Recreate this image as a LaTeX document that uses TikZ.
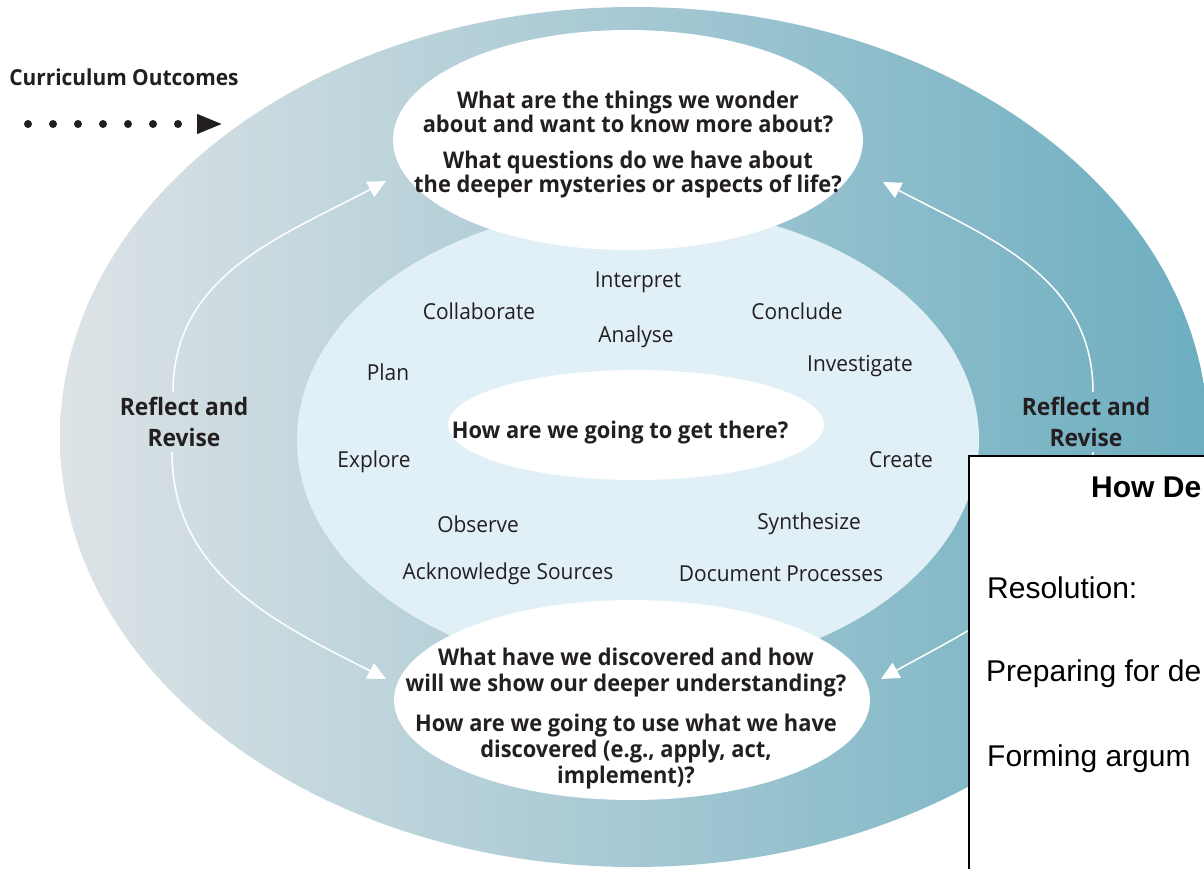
\documentclass[tikz,border=0pt]{standalone}
\usepackage{fontspec}
\setmainfont{Open Sans}[FakeStretch=0.95]
\newfontfamily\arialfont{Liberation Sans}
\usepackage{tikz}
\usetikzlibrary{arrows.meta}
\definecolor{ink}{HTML}{231F20}
\definecolor{ring-left}{HTML}{DDE3E6}
\definecolor{ring-mid}{HTML}{A3C8D4}
\definecolor{ring-right}{HTML}{6DAEC0}
\definecolor{core}{HTML}{E1F0F6}

\begin{document}
\begin{tikzpicture}[x=1pt,y=1pt,
  word/.style={text=ink,font=\fontsize{22}{24}\selectfont,inner sep=0pt},
  question/.style={text=ink,font=\bfseries\fontsize{23}{24}\selectfont,align=center,inner sep=0pt},
  reflect/.style={text=ink,font=\bfseries\fontsize{24}{31}\selectfont,align=center,inner sep=5pt},
  loop/.style={draw=white,line width=1.5pt,-{Triangle[length=18pt,width=17pt]}},
  boxtext/.style={font=\arialfont\fontsize{30}{30}\selectfont,anchor=base west,inner sep=0pt}]

\useasboundingbox (0,0) rectangle (1204,-869);
\clip (0,0) rectangle (1204,-869);
\fill[white] (0,0) rectangle (1204,-869);

% rings
\shade[left color=ring-left,middle color=ring-mid,right color=ring-right] (634,-437) ellipse [x radius=574pt, y radius=430pt];
\fill[core] (638,-440) ellipse [x radius=341pt, y radius=234pt];
\fill[white] (628,-140) ellipse [x radius=235pt, y radius=110pt];
\fill[white] (632,-700) ellipse [x radius=238pt, y radius=100pt];
\fill[white] (636,-425) ellipse [x radius=188pt, y radius=55pt];


\node[question,font=\bfseries\fontsize{22}{28}\selectfont] (outcomes) at (124,-77) {Curriculum Outcomes};

\coordinate (dotstart) at (28,-124);
\coordinate (dotend) at (223,-124);
\draw[ink,line width=8pt,line cap=round,dash pattern=on 0pt off 25pt,-{Triangle[length=26pt,width=18pt]}] (dotstart) -- (dotend);


\node[question] (wonder) at (628,-145) {What are the things we wonder\\about and want to know more about?\\[12pt]
What questions do we have about\\the deeper mysteries or aspects of life?};

\node[question,font=\bfseries\fontsize{23}{26}\selectfont] (discover) at (626,-719) {What have we discovered and how\\will we show our deeper understanding?\\[14pt]
How are we going to use what we have\\discovered (e.g., apply, act,\\implement)?};

\node[question] (getthere) at (620,-433) {How are we going to get there?};


\node[word] (interpret) at (638,-282) {Interpret};
\node[word] (collaborate) at (479,-311) {Collaborate};
\node[word] (conclude) at (797,-311) {Conclude};
\node[word] (analyse) at (636,-337) {Analyse};
\node[word] (plan) at (388,-372) {Plan};
\node[word] (investigate) at (860,-366) {Investigate};
\node[word] (explore) at (374,-462) {Explore};
\node[word] (create) at (901,-460) {Create};
\node[word] (observe) at (478,-524) {Observe};
\node[word] (synthesize) at (809,-524) {Synthesize};
\node[word] (sources) at (508,-574) {Acknowledge Sources};
\node[word] (processes) at (781,-574) {Document Processes};


\node[reflect] (reflectleft) at (184,-422) {Reflect and\\Revise};
\node[reflect] (reflectright) at (1086,-422) {Reflect and\\Revise};

\coordinate (tiptl) at (386,-181);
\coordinate (tipbl) at (386,-679);
\coordinate (tiptr) at (883,-182);
\coordinate (tipbr) at (881,-679);

\draw[loop] ([xshift=-11pt]reflectleft.north) to[out=90,in=208] (tiptl);
\draw[loop] ([xshift=-12pt]reflectleft.south) to[out=270,in=153] (tipbl);
\draw[loop] ([xshift=7pt]reflectright.north) to[out=90,in=-28] (tiptr);
\draw[loop] ([xshift=7pt]reflectright.south) to[out=270,in=29] (tipbr);


\node[draw=black,line width=1.6pt,fill=white,minimum width=270pt,minimum height=440pt,anchor=north west] (debate) at (968,-455) {};

\node[boxtext,font=\arialfont\bfseries\fontsize{30}{30}\selectfont] (howde) at (1091,-497) {How De};
\node[boxtext] (resolution) at (987,-598) {Resolution:};
\node[boxtext] (preparing) at (986,-681) {Preparing for de};
\node[boxtext] (forming) at (987,-766) {Forming argum};

\end{tikzpicture}
\end{document}
